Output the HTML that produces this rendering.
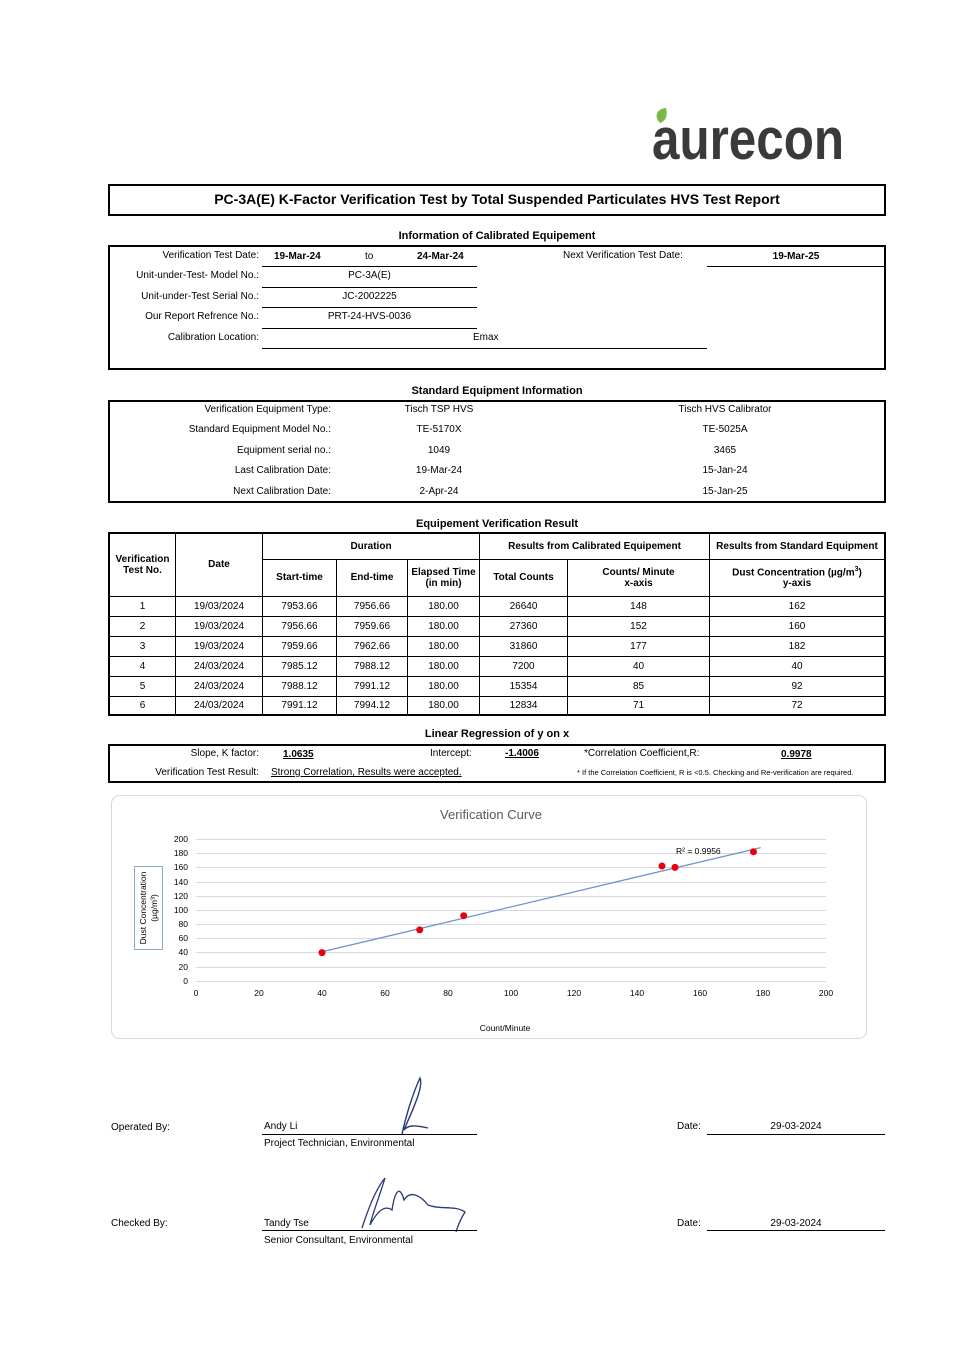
<!DOCTYPE html><html><head><style>
body{margin:0;width:963px;height:1360px;background:#fff;position:relative;font-family:"Liberation Sans",sans-serif;font-size:10px;color:#000;overflow:hidden}
.a{position:absolute;white-space:nowrap}
.c{text-align:center}
.r{text-align:right}
.b{font-weight:bold}
.box{position:absolute;border:2px solid #000;box-sizing:border-box}
.ln{position:absolute;height:0;border-top:1px solid #000}
table{border-collapse:collapse;position:absolute;left:108px;top:532px;width:778px;font-size:10px}
td{border:1px solid #000;text-align:center;padding:0}
</style></head><body>
<svg class="a" style="left:650px;top:105px" width="200" height="60"><path d="M10 18 C4 12 6 4 16 3 C18 10 16 16 10 18Z" fill="#7ab648"/><text x="2" y="54" font-family="Liberation Sans" font-weight="bold" font-size="58" fill="#3a3a3a" textLength="192" lengthAdjust="spacingAndGlyphs">aurecon</text></svg>
<div class="box" style="left:108px;top:184px;width:778px;height:32px"></div>
<div class="a c b" style="left:108px;width:778px;top:191px;font-size:14px">PC-3A(E) K-Factor Verification Test by Total Suspended Particulates HVS Test Report</div>
<div class="a c b" style="left:108px;width:778px;top:230px;font-size:11px">Information of Calibrated Equipement</div>
<div class="box" style="left:108px;top:245px;width:778px;height:125px"></div>
<div class="a r" style="right:704px;top:250px">Verification Test Date:</div>
<div class="a r" style="right:704px;top:270px">Unit-under-Test- Model No.:</div>
<div class="a r" style="right:704px;top:291px">Unit-under-Test Serial No.:</div>
<div class="a r" style="right:704px;top:311px">Our Report Refrence No.:</div>
<div class="a r" style="right:704px;top:332px">Calibration Location:</div>
<div class="a b" style="left:274px;top:251px">19-Mar-24</div><div class="a" style="left:365px;top:251px">to</div><div class="a b" style="left:417px;top:251px">24-Mar-24</div>
<div class="a" style="left:563px;top:250px">Next Verification Test Date:</div>
<div class="a c b" style="left:707px;width:178px;top:251px">19-Mar-25</div>
<div class="a c" style="left:262px;width:215px;top:270px">PC-3A(E)</div>
<div class="a c" style="left:262px;width:215px;top:291px">JC-2002225</div>
<div class="a c" style="left:262px;width:215px;top:311px">PRT-24-HVS-0036</div>
<div class="a" style="left:473px;top:332px">Emax</div>
<div class="ln" style="left:262px;width:215px;top:266px"></div><div class="ln" style="left:707px;width:178px;top:266px"></div>
<div class="ln" style="left:262px;width:215px;top:287px"></div><div class="ln" style="left:262px;width:215px;top:307px"></div>
<div class="ln" style="left:262px;width:215px;top:328px"></div><div class="ln" style="left:262px;width:445px;top:348px"></div>
<div class="a c b" style="left:108px;width:778px;top:385px;font-size:11px">Standard Equipment Information</div>
<div class="box" style="left:108px;top:400px;width:778px;height:103px"></div>
<div class="a r" style="right:632px;top:404px">Verification Equipment Type:</div>
<div class="a r" style="right:632px;top:424px">Standard Equipment Model No.:</div>
<div class="a r" style="right:632px;top:445px">Equipment serial no.:</div>
<div class="a r" style="right:632px;top:465px">Last Calibration Date:</div>
<div class="a r" style="right:632px;top:486px">Next Calibration Date:</div>
<div class="a c" style="left:379px;width:120px;top:404px">Tisch TSP HVS</div><div class="a c" style="left:665px;width:120px;top:404px">Tisch HVS Calibrator</div>
<div class="a c" style="left:379px;width:120px;top:424px">TE-5170X</div><div class="a c" style="left:665px;width:120px;top:424px">TE-5025A</div>
<div class="a c" style="left:379px;width:120px;top:445px">1049</div><div class="a c" style="left:665px;width:120px;top:445px">3465</div>
<div class="a c" style="left:379px;width:120px;top:465px">19-Mar-24</div><div class="a c" style="left:665px;width:120px;top:465px">15-Jan-24</div>
<div class="a c" style="left:379px;width:120px;top:486px">2-Apr-24</div><div class="a c" style="left:665px;width:120px;top:486px">15-Jan-25</div>
<div class="a c b" style="left:108px;width:778px;top:518px;font-size:11px">Equipement Verification Result</div>
<table style="border:2px solid #000">
<tr style="height:26px" class="b"><td rowspan="2" style="width:65px;font-weight:bold">Verification<br>Test No.</td><td rowspan="2" style="width:86px;font-weight:bold">Date</td><td colspan="3" style="font-weight:bold">Duration</td><td colspan="2" style="font-weight:bold">Results from Calibrated Equipement</td><td style="font-weight:bold">Results from Standard Equipment</td></tr>
<tr style="height:37px"><td style="width:73px;font-weight:bold">Start-time</td><td style="width:70px;font-weight:bold">End-time</td><td style="width:71px;font-weight:bold">Elapsed Time<br>(in min)</td><td style="width:87px;font-weight:bold">Total Counts</td><td style="width:141px;font-weight:bold">Counts/ Minute<br>x-axis</td><td style="font-weight:bold">Dust Concentration (µg/m<sup style="font-size:7px">3</sup>)<br>y-axis</td></tr>
<tr style="height:20px"><td>1</td><td>19/03/2024</td><td>7953.66</td><td>7956.66</td><td>180.00</td><td>26640</td><td>148</td><td>162</td></tr>
<tr style="height:20px"><td>2</td><td>19/03/2024</td><td>7956.66</td><td>7959.66</td><td>180.00</td><td>27360</td><td>152</td><td>160</td></tr>
<tr style="height:20px"><td>3</td><td>19/03/2024</td><td>7959.66</td><td>7962.66</td><td>180.00</td><td>31860</td><td>177</td><td>182</td></tr>
<tr style="height:20px"><td>4</td><td>24/03/2024</td><td>7985.12</td><td>7988.12</td><td>180.00</td><td>7200</td><td>40</td><td>40</td></tr>
<tr style="height:20px"><td>5</td><td>24/03/2024</td><td>7988.12</td><td>7991.12</td><td>180.00</td><td>15354</td><td>85</td><td>92</td></tr>
<tr style="height:19px"><td>6</td><td>24/03/2024</td><td>7991.12</td><td>7994.12</td><td>180.00</td><td>12834</td><td>71</td><td>72</td></tr>
</table>
<div class="a c b" style="left:108px;width:778px;top:728px;font-size:11px">Linear Regression of y on x</div>
<div class="box" style="left:108px;top:744px;width:778px;height:39px"></div>
<div class="a r" style="right:704px;top:748px">Slope, K factor:</div>
<div class="a b" style="left:283px;top:749px;text-decoration:underline">1.0635</div>
<div class="a" style="left:430px;top:748px">Intercept:</div>
<div class="a b" style="left:505px;top:748px;text-decoration:underline">-1.4006</div>
<div class="a" style="left:584px;top:748px">*Correlation Coefficient,R:</div>
<div class="a b" style="left:781px;top:749px;text-decoration:underline">0.9978</div>
<div class="a r" style="right:704px;top:767px">Verification Test Result:</div>
<div class="a" style="left:271px;top:767px;text-decoration:underline">Strong Correlation, Results were accepted.</div>
<div class="a" style="left:577px;top:768px;font-size:7.5px">* If the Correlation Coefficient, R is &lt;0.5. Checking and Re-verification are required.</div>
<svg class="a" style="left:0;top:0" width="963" height="1360">
<rect x="111.5" y="795.5" width="755" height="243" rx="8" fill="none" stroke="#d9d9d9"/>
<text x="491" y="819" font-size="13" fill="#595959" text-anchor="middle" font-family="Liberation Sans">Verification Curve</text>
<g stroke="#d9d9d9" stroke-width="1">
<line x1="196" x2="826" y1="839.5" y2="839.5"/><line x1="196" x2="826" y1="853.5" y2="853.5"/><line x1="196" x2="826" y1="867.5" y2="867.5"/><line x1="196" x2="826" y1="882.5" y2="882.5"/><line x1="196" x2="826" y1="896.5" y2="896.5"/><line x1="196" x2="826" y1="910.5" y2="910.5"/><line x1="196" x2="826" y1="924.5" y2="924.5"/><line x1="196" x2="826" y1="938.5" y2="938.5"/><line x1="196" x2="826" y1="952.5" y2="952.5"/><line x1="196" x2="826" y1="967.5" y2="967.5"/><line x1="196" x2="826" y1="981.5" y2="981.5"/>
</g>
<g font-size="8.5" font-family="Liberation Sans" text-anchor="end" fill="#000">
<text x="188" y="842">200</text><text x="188" y="856">180</text><text x="188" y="870">160</text><text x="188" y="885">140</text><text x="188" y="899">120</text><text x="188" y="913">100</text><text x="188" y="927">80</text><text x="188" y="941">60</text><text x="188" y="955">40</text><text x="188" y="970">20</text><text x="188" y="984">0</text>
</g>
<g font-size="8.5" font-family="Liberation Sans" text-anchor="middle">
<text x="196" y="996">0</text><text x="259" y="996">20</text><text x="322" y="996">40</text><text x="385" y="996">60</text><text x="448" y="996">80</text><text x="511" y="996">100</text><text x="574" y="996">120</text><text x="637" y="996">140</text><text x="700" y="996">160</text><text x="763" y="996">180</text><text x="826" y="996">200</text>
<text x="505" y="1031">Count/Minute</text>
</g>
<rect x="134.5" y="866.5" width="28" height="83" fill="none" stroke="#8fa9d3"/>
<text transform="translate(146,908) rotate(-90)" font-size="8.5" text-anchor="middle" font-family="Liberation Sans">Dust Concentration</text>
<text transform="translate(157,908) rotate(-90)" font-size="8.5" text-anchor="middle" font-family="Liberation Sans">(µg/m³)</text>
<line x1="322" y1="951.8" x2="760.7" y2="847.6" stroke="#6f93cf" stroke-width="1.3"/>
<text x="676" y="854" font-size="8.5" font-family="Liberation Sans">R² = 0.9956</text>
<g fill="#e8000b"><circle cx="662" cy="866" r="3.5"/><circle cx="675" cy="867.4" r="3.5"/><circle cx="753.5" cy="851.8" r="3.5"/><circle cx="322" cy="952.6" r="3.5"/><circle cx="463.7" cy="915.7" r="3.5"/><circle cx="419.7" cy="929.9" r="3.5"/></g>
<path d="M402 1134 C405 1120 412 1095 420 1078 C424 1088 410 1115 404 1130 C408 1125 414 1125 428 1128" fill="none" stroke="#2a3a7a" stroke-width="1.4"/>
<path d="M362 1228 C368 1210 375 1190 385 1178 C380 1195 372 1215 370 1225 C378 1210 385 1205 392 1210 C395 1190 400 1185 404 1200 C410 1190 420 1195 428 1205 C440 1210 455 1205 465 1212 C460 1220 458 1225 456 1232" fill="none" stroke="#2a3a7a" stroke-width="1.3"/>
</svg>
<div class="a" style="left:111px;top:1122px">Operated By:</div>
<div class="a" style="left:264px;top:1121px">Andy Li</div>
<div class="ln" style="left:262px;width:215px;top:1134px"></div>
<div class="a" style="left:264px;top:1138px">Project Technician, Environmental</div>
<div class="a" style="left:677px;top:1121px">Date:</div>
<div class="a c" style="left:707px;width:178px;top:1121px">29-03-2024</div>
<div class="ln" style="left:707px;width:178px;top:1134px"></div>
<div class="a" style="left:111px;top:1218px">Checked By:</div>
<div class="a" style="left:264px;top:1218px">Tandy Tse</div>
<div class="ln" style="left:262px;width:215px;top:1230px"></div>
<div class="a" style="left:264px;top:1235px">Senior Consultant, Environmental</div>
<div class="a" style="left:677px;top:1218px">Date:</div>
<div class="a c" style="left:707px;width:178px;top:1218px">29-03-2024</div>
<div class="ln" style="left:707px;width:178px;top:1230px"></div>
</body></html>
